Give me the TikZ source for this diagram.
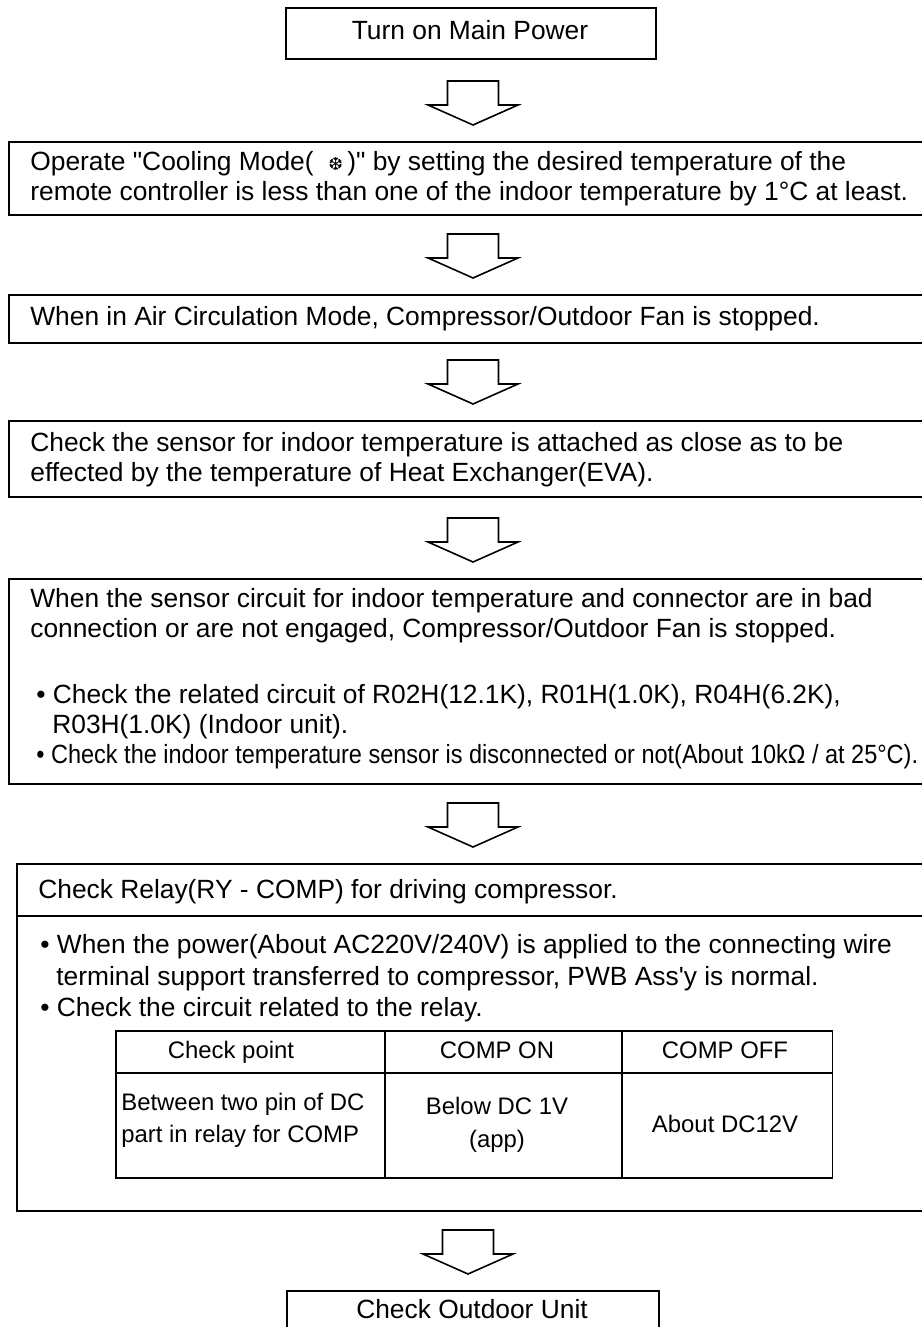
\documentclass[tikz,border=0pt]{standalone}
\usepackage{graphicx}
\usepackage{fontspec}
\setmainfont{Liberation Sans}
\newfontfamily\symfont{DejaVu Sans}
\usetikzlibrary{positioning,calc}
\tikzset{
  stepbox/.style={draw=black,line width=0.9pt,inner sep=0pt,anchor=north west},
  txt/.style={anchor=base west,inner sep=0pt},
  cell/.style={anchor=base,inner sep=0pt,font=\fontsize{13.6}{16}\selectfont},
  lcell/.style={anchor=base west,inner sep=0pt,font=\fontsize{13.6}{16}\selectfont},
  blockarrow/.pic={\draw[line width=0.9pt,line join=miter] (-25.5,-60) -- (25.5,-60) -- (25.5,-36) -- (45,-36) -- (0,-16) -- (-45,-36) -- (-25.5,-36) -- cycle;},
}
\newcommand{\snowmark}{{\symfont\fontsize{10}{10}\selectfont ❆}}

\begin{document}
\begin{tikzpicture}[x=0.02cm,y=-0.02cm,font=\fontsize{15}{18}\selectfont]
\useasboundingbox (0,0) rectangle (921,1327);
\coordinate (ax) at (473,0);
\coordinate (bx) at (468,0);
% boxes
\node[stepbox,minimum width=7.4cm,minimum height=1.02cm] (b1) at (285,7) {};
\node[stepbox,minimum width=19cm,minimum height=1.46cm] (b2) at (8,141) {};
\node[stepbox,minimum width=19cm,minimum height=0.96cm] (b3) at (8,294) {};
\node[stepbox,minimum width=19cm,minimum height=1.52cm] (b4) at (8,420) {};
\node[stepbox,minimum width=19cm,minimum height=4.1cm] (b5) at (8,578) {};
\node[stepbox,minimum width=19cm,minimum height=6.94cm] (b6) at (16,863) {};
\node[stepbox,minimum width=7.44cm,minimum height=1cm] (b7) at (286,1290) {};
\coordinate (sep) at (16,916);
\draw[line width=0.9pt] (sep) -- (sep -| b6.east);
% arrows
\pic at (b2.north -| ax) {blockarrow};
\pic at (b3.north -| ax) {blockarrow};
\pic at (b4.north -| ax) {blockarrow};
\pic at (b5.north -| ax) {blockarrow};
\pic at (b6.north -| ax) {blockarrow};
\pic at (b7.north -| bx) {blockarrow};
% texts
\node[anchor=base,inner sep=0pt] (t1) at (470,40) {Turn on Main Power};
\node[txt] (t2a) at (30,171) {Operate \textquotedbl Cooling Mode(\ \ \snowmark\,)\textquotedbl\ by setting the desired temperature of the};
\node[txt] (t2b) at (30,201) {remote controller is less than one of the indoor temperature by 1°C at least.};
\node[txt] (t3) at (30,326) {When in Air Circulation Mode, Compressor/Outdoor Fan is stopped.};
\node[txt] (t4a) at (30,451) {Check the sensor for indoor temperature is attached as close as to be};
\node[txt] (t4b) at (30,481) {effected by the temperature of Heat Exchanger(EVA).};
\node[txt] (t5a) at (30,607) {When the sensor circuit for indoor temperature and connector are in bad};
\node[txt] (t5b) at (30,637) {connection or are not engaged, Compressor/Outdoor Fan is stopped.};
\node[txt] (t5c) at (36,703) {\textbullet\ Check the related circuit of R02H(12.1K), R01H(1.0K), R04H(6.2K),};
\node[txt] (t5d) at (52,733) {R03H(1.0K) (Indoor unit).};
\node[txt] (t5e) at (36,763) {\resizebox{17.64cm}{\height}{\textbullet\ Check the indoor temperature sensor is disconnected or not(About 10kΩ / at 25°C).}};
\node[txt] (t6) at (38,898) {Check Relay(RY - COMP) for driving compressor.};
\node[txt] (t6a) at (40,953) {\textbullet\ When the power(About AC220V/240V) is applied to the connecting wire};
\node[txt] (t6b) at (56,985) {terminal support transferred to compressor, PWB Ass\textquotesingle y is normal.};
\node[txt] (t6c) at (40,1016) {\textbullet\ Check the circuit related to the relay.};
% table
\node[stepbox,minimum width=14.34cm,minimum height=2.94cm] (tab) at (115,1030) {};
\coordinate (hl) at (115,1073);
\coordinate (c1) at (385,1030);
\coordinate (c2) at (622,1030);
\draw[line width=0.9pt] (hl) -- (hl -| tab.east);
\draw[line width=0.9pt] (c1) -- (c1 |- tab.south);
\draw[line width=0.9pt] (c2) -- (c2 |- tab.south);
\node[cell] (h1) at (231,1058) {Check point};
\node[cell] (h2) at (497,1058) {COMP ON};
\node[cell] (h3) at (725,1058) {COMP OFF};
\node[lcell] (r1a) at (121,1110) {Between two pin of DC};
\node[lcell] (r1b) at (121,1142) {part in relay for COMP};
\node[cell] (r2a) at (497,1114) {Below DC 1V};
\node[cell] (r2b) at (497,1147) {(app)};
\node[cell] (r3) at (725,1132) {About DC12V};
\node[anchor=base,inner sep=0pt] (t7) at (472,1318) {Check Outdoor Unit};
\end{tikzpicture}
\end{document}
